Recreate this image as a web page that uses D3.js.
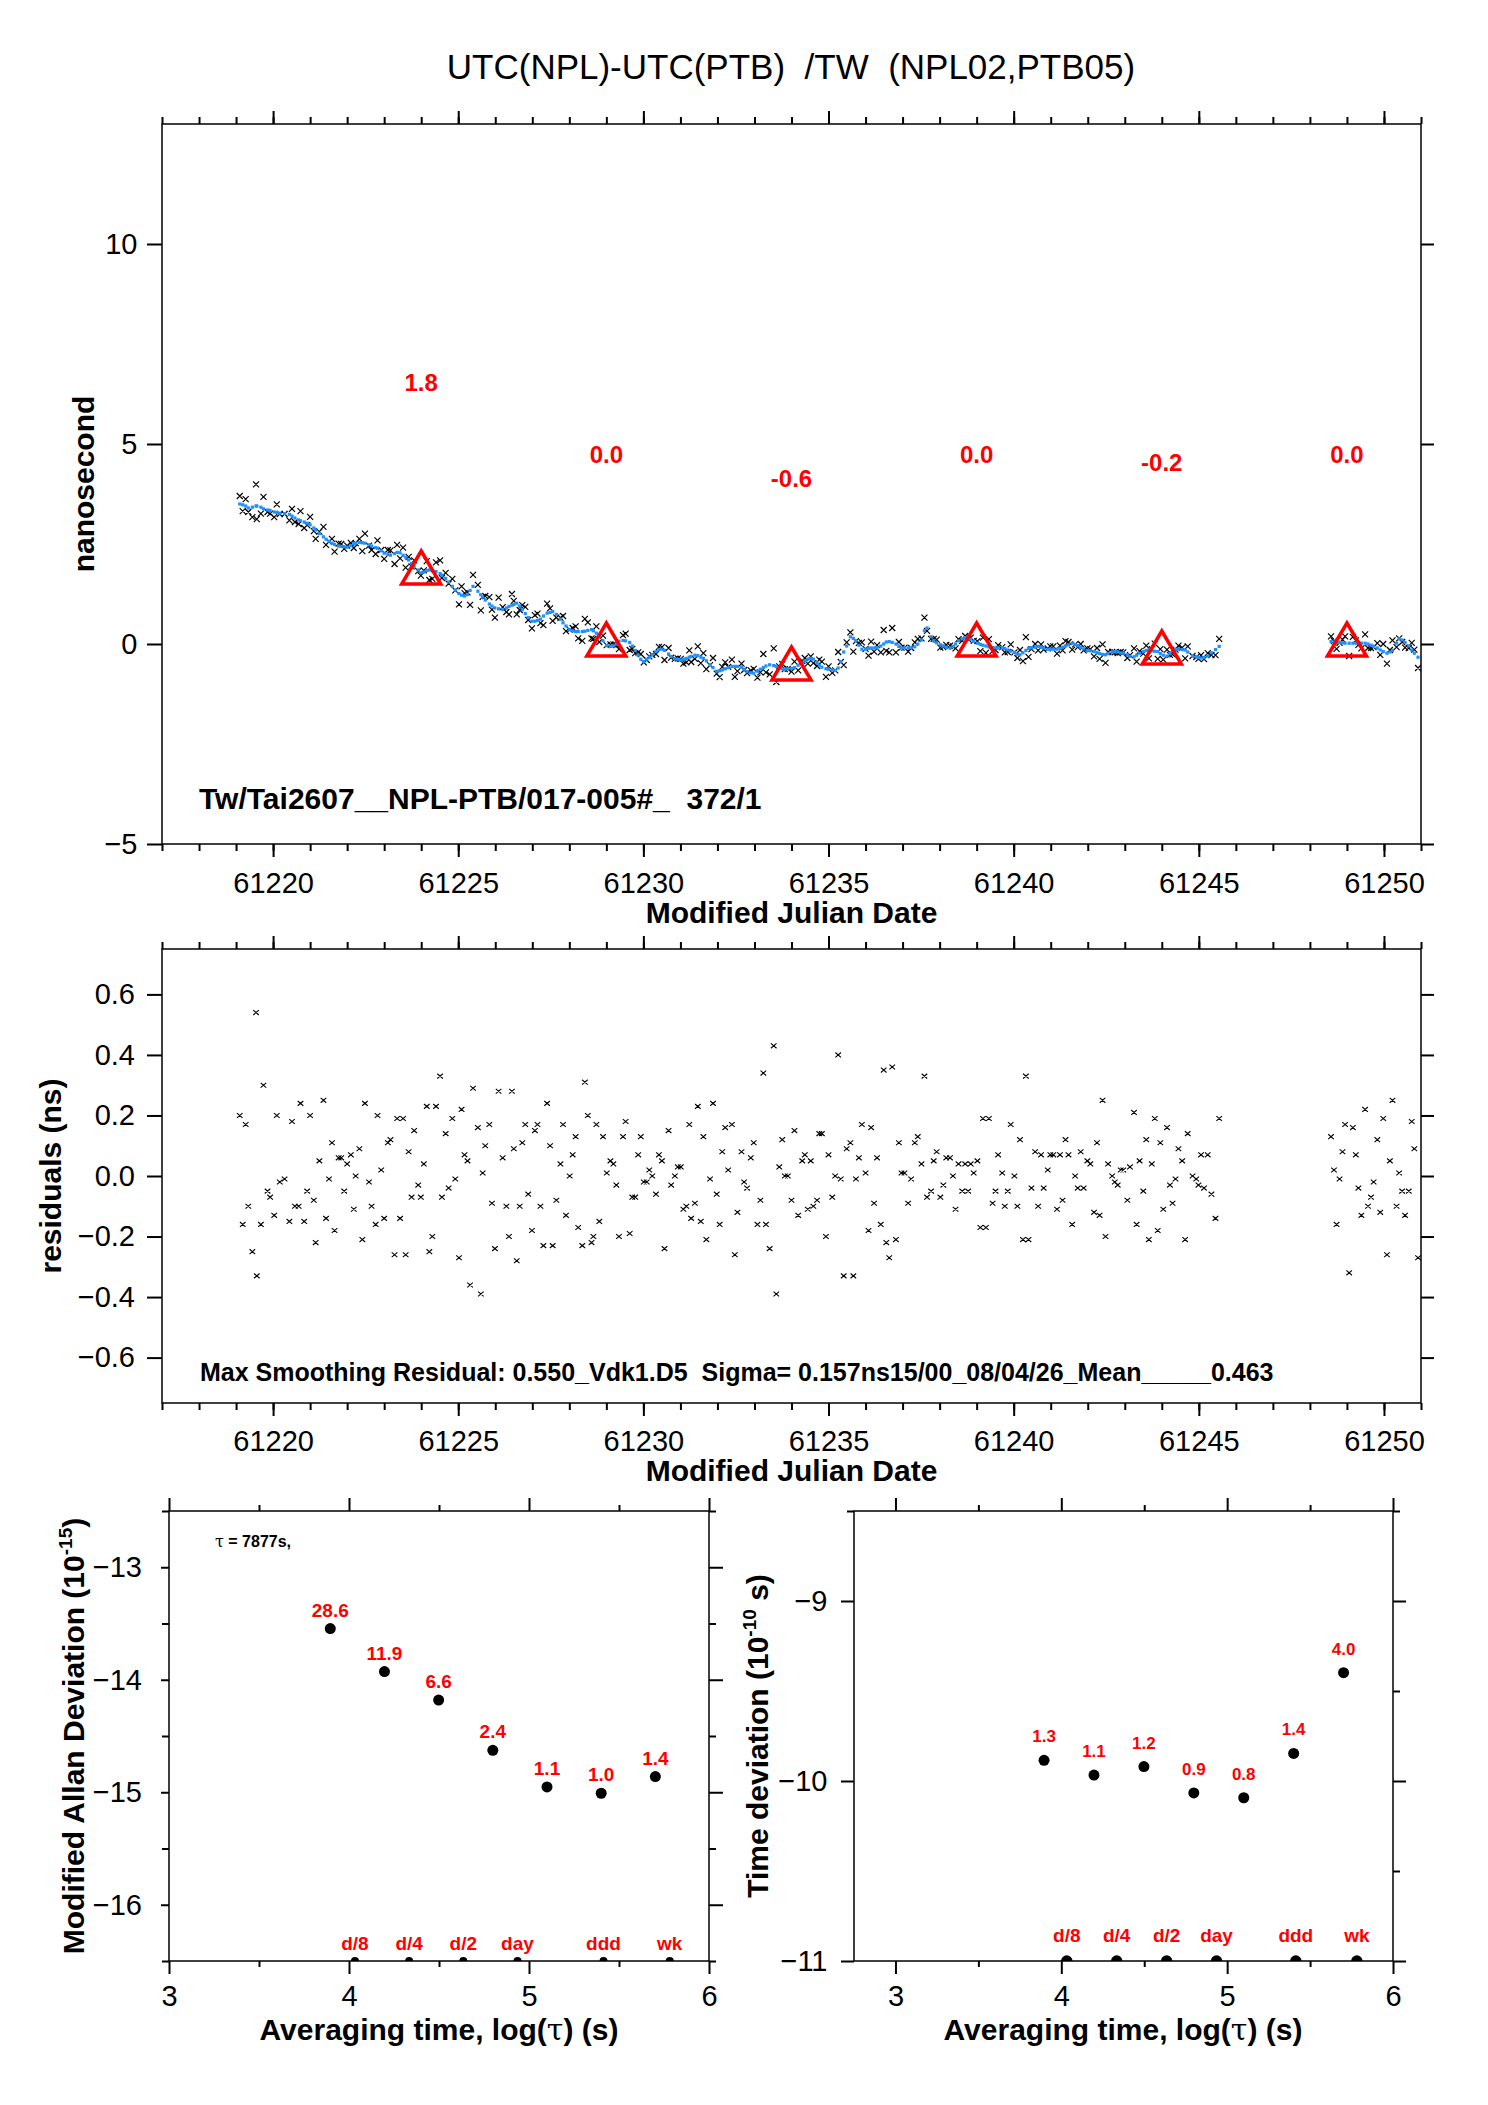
<!DOCTYPE html>
<html>
<head>
<meta charset="utf-8">
<script src="https://cdn.jsdelivr.net/npm/d3@7"></script>
<style>
  body { margin: 0; background: #fff; }
  text { font-family: "Liberation Sans", Arial, Helvetica, sans-serif; }
  .axis text { font-size: 29px; fill: #000; font-family: "Liberation Sans", Arial, sans-serif; }
  .axis .tick line { stroke: #000; stroke-width: 2; }
</style>
</head>
<body>
<svg id="chart"></svg>
<script>
// ---- time series samples (MJD), smoothed curve (ns) and residuals (ns)
const sampleMjd = [
  61219.10,61219.18,61219.26,61219.33,61219.44,61219.54,61219.56,61219.67,61219.74,61219.85,61219.92,
  61220.03,61220.10,61220.18,61220.31,61220.44,61220.51,61220.59,61220.69,61220.74,61220.84,61220.92,
  61221.00,61221.10,61221.15,61221.25,61221.36,61221.43,61221.51,61221.59,61221.66,61221.77,61221.84,61221.92,
  61222.00,61222.10,61222.18,61222.23,61222.33,61222.41,61222.48,61222.59,61222.66,61222.77,61222.82,61222.92,
  61223.00,61223.10,61223.17,61223.28,61223.35,61223.43,61223.51,61223.58,61223.66,61223.74,61223.81,61223.92,61223.99,
  61224.07,61224.15,61224.22,61224.30,61224.40,61224.51,61224.56,61224.66,61224.74,61224.84,61224.92,
  61225.02,61225.09,61225.17,61225.25,61225.32,61225.40,61225.53,61225.61,61225.66,61225.73,61225.84,61225.91,61225.99,
  61226.09,61226.20,61226.30,61226.37,61226.45,61226.50,61226.58,61226.66,61226.73,61226.81,61226.89,61226.99,
  61227.07,61227.14,61227.22,61227.30,61227.40,61227.48,61227.55,61227.65,61227.76,61227.83,61227.91,
  61228.01,61228.09,61228.17,61228.24,61228.35,61228.42,61228.50,61228.60,61228.65,61228.73,61228.81,61228.91,
  61229.01,61229.11,61229.19,61229.27,61229.34,61229.45,61229.52,61229.63,61229.70,61229.78,61229.86,61229.93,
  61230.01,61230.09,61230.16,61230.24,61230.34,61230.42,61230.50,61230.57,61230.68,61230.75,61230.85,61230.93,
  61231.01,61231.08,61231.16,61231.24,61231.29,61231.39,61231.47,61231.55,61231.62,61231.70,61231.80,61231.88,61231.98,
  61232.06,61232.13,61232.21,61232.29,61232.39,61232.47,61232.54,61232.65,61232.72,61232.80,61232.90,61232.98,
  61233.08,61233.16,61233.24,61233.31,61233.41,61233.52,61233.59,61233.67,61233.75,61233.82,61233.90,
  61234.00,61234.08,61234.18,61234.29,61234.36,61234.44,61234.52,61234.59,61234.69,61234.75,61234.82,61234.93,
  61235.00,61235.10,61235.18,61235.26,61235.33,61235.41,61235.49,61235.59,61235.67,61235.74,61235.82,61235.90,
  61236.00,61236.08,61236.15,61236.23,61236.31,61236.41,61236.49,61236.56,61236.64,61236.72,61236.82,61236.90,61236.97,
  61237.05,61237.15,61237.23,61237.33,61237.41,61237.51,61237.59,61237.66,61237.77,61237.84,61237.92,
  61238.02,61238.10,61238.18,61238.28,61238.36,61238.43,61238.51,61238.61,61238.69,61238.77,61238.84,61238.92,
  61239.02,61239.10,61239.17,61239.25,61239.33,61239.43,61239.51,61239.58,61239.69,61239.76,61239.84,61239.92,
  61240.02,61240.10,61240.17,61240.25,61240.33,61240.40,61240.48,61240.58,61240.66,61240.74,61240.81,61240.92,61240.99,
  61241.07,61241.17,61241.25,61241.32,61241.40,61241.48,61241.58,61241.66,61241.73,61241.81,61241.89,61241.99,
  61242.07,61242.17,61242.25,61242.32,61242.40,61242.48,61242.55,61242.66,61242.73,61242.81,61242.89,61242.96,
  61243.07,61243.14,61243.25,61243.32,61243.40,61243.50,61243.58,61243.65,61243.73,61243.81,61243.89,61243.96,
  61244.04,61244.14,61244.22,61244.29,61244.37,61244.45,61244.55,61244.63,61244.70,61244.83,61244.93,61244.99,
  61245.06,61245.14,61245.24,61245.34,61245.45,61245.55,
  61248.57,61248.65,61248.72,61248.80,61248.88,61248.95,
  61249.06,61249.16,61249.24,61249.31,61249.39,61249.49,61249.57,61249.65,61249.72,61249.82,61249.90,61249.98,
  61250.08,61250.16,61250.23,61250.34,61250.41,61250.49,61250.57,61250.67,61250.75,61250.82,61250.92
];
const smoothNs = [
  3.50,3.48,3.45,3.40,3.42,3.45,3.45,3.42,3.38,3.35,3.33,
  3.30,3.29,3.27,3.26,3.24,3.20,3.15,3.10,3.08,3.05,3.02,
  2.98,2.90,2.85,2.76,2.68,2.62,2.57,2.52,2.49,2.45,2.44,2.43,
  2.42,2.46,2.51,2.52,2.54,2.53,2.52,2.48,2.45,2.41,2.39,2.33,
  2.27,2.24,2.22,2.26,2.29,2.28,2.22,2.17,2.10,2.01,1.94,1.85,1.78,
  1.80,1.84,1.85,1.83,1.81,1.76,1.72,1.64,1.55,1.44,1.35,
  1.26,1.22,1.20,1.24,1.34,1.44,1.32,1.23,1.17,1.10,1.00,0.95,0.90,
  0.88,0.86,0.90,0.94,0.97,0.99,1.02,0.95,0.86,0.76,0.66,0.57,
  0.57,0.59,0.62,0.70,0.77,0.79,0.81,0.74,0.62,0.53,0.45,
  0.36,0.33,0.31,0.31,0.31,0.32,0.34,0.36,0.33,0.27,0.20,0.08,
  -0.04,-0.06,-0.05,0.00,0.07,0.09,0.08,0.04,-0.05,-0.16,-0.28,-0.38,
  -0.44,-0.38,-0.33,-0.27,-0.19,-0.14,-0.13,-0.16,-0.25,-0.31,-0.37,-0.39,
  -0.40,-0.38,-0.36,-0.33,-0.31,-0.28,-0.29,-0.33,-0.36,-0.42,-0.52,-0.59,-0.68,
  -0.67,-0.65,-0.62,-0.59,-0.56,-0.56,-0.56,-0.57,-0.63,-0.69,-0.72,-0.73,
  -0.68,-0.63,-0.59,-0.55,-0.52,-0.54,-0.56,-0.59,-0.62,-0.63,-0.62,
  -0.61,-0.59,-0.53,-0.47,-0.42,-0.38,-0.36,-0.38,-0.47,-0.53,-0.58,-0.62,
  -0.63,-0.65,-0.66,-0.60,-0.44,-0.20,-0.05,0.18,0.14,0.08,-0.03,-0.13,
  -0.13,-0.11,-0.10,-0.10,-0.09,-0.05,0.00,0.05,0.06,0.04,0.00,-0.06,-0.10,
  -0.10,-0.10,-0.09,-0.07,0.00,0.10,0.33,0.40,0.18,0.08,0.03,
  -0.02,-0.05,-0.08,-0.10,-0.06,0.00,0.08,0.13,0.16,0.17,0.12,0.07,
  0.02,-0.01,-0.03,-0.05,-0.07,-0.09,-0.10,-0.10,-0.09,-0.11,-0.15,-0.18,
  -0.21,-0.25,-0.27,-0.22,-0.16,-0.11,-0.09,-0.08,-0.06,-0.08,-0.10,-0.13,-0.13,
  -0.13,-0.13,-0.11,-0.08,-0.05,-0.02,0.02,-0.01,-0.04,-0.08,-0.12,-0.16,
  -0.17,-0.19,-0.21,-0.24,-0.26,-0.27,-0.24,-0.20,-0.19,-0.20,-0.22,-0.23,
  -0.27,-0.31,-0.32,-0.28,-0.23,-0.19,-0.16,-0.15,-0.17,-0.18,-0.19,-0.24,
  -0.28,-0.30,-0.24,-0.17,-0.13,-0.13,-0.14,-0.15,-0.20,-0.30,-0.32,-0.34,
  -0.35,-0.34,-0.30,-0.22,-0.14,-0.06,
  0.06,0.05,0.04,0.04,0.03,0.02,
  0.02,0.02,0.02,0.02,0.02,0.02,0.00,-0.03,-0.06,-0.10,-0.15,-0.19,
  -0.23,-0.20,-0.16,0.02,0.13,0.10,0.04,-0.05,-0.15,-0.23,-0.33
];
const residualNs = [
  0.20,-0.16,0.17,-0.10,-0.25,0.54,-0.33,-0.16,0.30,-0.05,-0.07,
  -0.13,0.20,-0.02,-0.01,-0.15,0.18,-0.10,-0.10,0.24,-0.15,-0.05,
  0.20,-0.08,-0.22,0.05,0.25,-0.14,-0.01,0.11,-0.18,0.06,0.06,-0.05,
  0.04,0.07,-0.11,0.00,0.09,-0.21,0.24,-0.02,-0.10,-0.16,0.20,0.02,
  -0.14,0.11,0.12,-0.26,0.19,-0.14,0.19,-0.26,0.08,-0.07,0.15,-0.03,-0.07,
  0.04,0.23,-0.25,-0.20,0.23,0.33,-0.07,0.14,-0.04,0.19,-0.01,
  -0.27,0.22,0.07,0.05,-0.36,0.29,0.16,-0.39,0.01,0.10,0.17,-0.09,-0.24,
  0.28,0.06,-0.10,-0.20,0.28,0.09,-0.28,-0.10,0.11,0.17,-0.06,-0.18,
  0.15,0.17,-0.10,-0.23,0.24,0.10,-0.23,-0.08,0.04,0.17,-0.13,
  0.00,0.07,0.13,-0.17,-0.23,0.31,0.20,-0.22,-0.20,0.17,-0.15,0.13,
  0.01,0.05,0.04,-0.03,-0.20,0.13,0.18,-0.19,-0.07,-0.07,0.07,0.13,
  -0.02,-0.02,0.02,0.00,-0.06,0.07,0.05,-0.24,0.15,-0.03,0.00,0.03,
  0.03,-0.11,-0.10,0.17,-0.14,-0.09,0.23,-0.15,0.13,-0.21,-0.01,0.24,-0.06,
  -0.16,0.08,0.16,0.02,0.17,-0.26,-0.12,0.08,-0.02,-0.04,0.06,0.11,
  -0.16,-0.08,0.34,-0.16,-0.24,0.43,-0.39,0.03,0.12,0.00,0.00,
  -0.08,0.15,-0.13,0.05,0.07,-0.11,0.05,-0.10,-0.08,0.14,0.14,-0.20,
  0.07,-0.07,0.00,0.40,-0.01,-0.33,0.09,0.11,-0.33,-0.01,0.06,0.17,
  0.01,-0.18,0.16,-0.09,0.06,-0.16,0.35,-0.22,-0.27,0.36,-0.21,0.11,0.01,
  0.01,-0.09,-0.01,0.11,0.13,0.04,0.33,-0.07,-0.05,0.05,0.08,
  -0.07,-0.03,0.06,0.06,0.00,-0.11,0.04,-0.05,0.04,-0.05,0.04,0.01,
  0.05,-0.17,0.19,-0.17,0.19,-0.09,-0.05,0.07,0.01,-0.10,-0.05,0.17,
  0.00,-0.10,0.12,-0.21,0.33,-0.21,-0.04,0.08,-0.10,0.07,-0.04,0.02,0.07,
  0.07,-0.11,0.07,-0.08,0.12,0.07,-0.16,0.00,-0.04,0.08,-0.04,0.05,
  0.04,-0.12,0.11,-0.13,0.25,-0.20,0.04,0.00,-0.02,-0.03,0.02,0.02,
  -0.08,0.03,0.21,-0.16,0.05,-0.05,0.12,-0.21,0.04,0.19,-0.18,0.11,
  -0.11,0.16,-0.03,-0.09,-0.01,0.09,0.05,-0.21,0.14,0.00,-0.01,-0.03,
  0.07,-0.04,0.07,-0.06,-0.14,0.19,
  0.13,0.02,-0.16,-0.01,0.08,0.17,
  -0.32,0.16,0.07,-0.04,-0.13,0.22,-0.10,-0.07,-0.02,0.12,-0.12,0.19,
  -0.26,0.05,0.25,-0.10,0.01,-0.05,-0.13,-0.05,0.18,0.09,-0.27
];

// ---- 5-day means shown as triangles
const meanMjd = [61224, 61229, 61234, 61239, 61244, 61249];
const meanNs = [1.8, 0.0, -0.6, 0.0, -0.2, 0.0];
const meanLabels = ['1.8', '0.0', '-0.6', '0.0', '-0.2', '0.0'];

// ---- stability plots
const logTau = [3.896, 4.197, 4.498, 4.799, 5.100, 5.401, 5.702];
const logMdev = [-13.545, -13.927, -14.181, -14.627, -14.953, -15.009, -14.861];
const mdevLabels = ['28.6', '11.9', '6.6', '2.4', '1.1', '1.0', '1.4'];
const logTdev = [-9.885, -9.967, -9.920, -10.066, -10.093, -9.847, -9.398];
const tdevLabels = ['1.3', '1.1', '1.2', '0.9', '0.8', '1.4', '4.0'];
const markTau = [4.033, 4.334, 4.635, 4.936, 5.414, 5.782];
const markNames = ['d/8', 'd/4', 'd/2', 'day', 'ddd', 'wk'];

const titleText = 'UTC(NPL)-UTC(PTB)  /TW  (NPL02,PTB05)';
const infoText = 'Tw/Tai2607__NPL-PTB/017-005#_  372/1';
const residText = 'Max Smoothing Residual: 0.550_Vdk1.D5  Sigma= 0.157ns15/00_08/04/26_Mean_____0.463';

const W = 1488, H = 2105;
const svg = d3.select('#chart').attr('width', W).attr('height', H);
svg.append('rect').attr('width', W).attr('height', H).attr('fill', '#fff');

const xDay = d3.scaleLinear().domain([61217, 61251]).range([162, 1421]);
const yNs = d3.scaleLinear().domain([-5, 13]).range([844, 124]);
const yRes = d3.scaleLinear().domain([-0.75, 0.75]).range([1403, 949]);
const xTauL = d3.scaleLinear().domain([3, 6]).range([169, 709]);
const yMdev = d3.scaleLinear().domain([-16.5, -12.5]).range([1961, 1511]);
const xTauR = d3.scaleLinear().domain([2.75, 6]).range([854, 1393]);
const yTdev = d3.scaleLinear().domain([-11, -8.5]).range([1961, 1511]);

function axis(g, gen, scale, values, size, pad, fmt, tr) {
  const a = gen(scale).tickValues(values).tickSize(size).tickSizeOuter(0)
    .tickPadding(pad).tickFormat(fmt || (() => ''));
  const ag = g.append('g').attr('class', 'axis').attr('transform', tr).call(a);
  ag.select('.domain').remove();
  if (!fmt) ag.selectAll('text').remove();
  return ag;
}

function frame(x, y, o) {
  const g = svg.append('g');
  const [xl, xr] = x.range(), [yb, yt] = y.range();
  axis(g, d3.axisBottom, x, o.xMinor, o.xMin, 0, null, `translate(0,${yb})`);
  axis(g, d3.axisBottom, x, o.xMajor, o.xMaj, o.xPad, o.xFmt, `translate(0,${yb})`);
  axis(g, d3.axisTop, x, o.xMinor, o.xMin, 0, null, `translate(0,${yt})`);
  axis(g, d3.axisTop, x, o.xMajor, o.xMaj, 0, null, `translate(0,${yt})`);
  axis(g, d3.axisLeft, y, o.yMinorL, o.lMin, 0, null, `translate(${xl},0)`);
  axis(g, d3.axisLeft, y, o.yMajor, o.lMaj, o.yPad, o.yFmt, `translate(${xl},0)`);
  axis(g, d3.axisRight, y, o.yMinorR, o.rMin, 0, null, `translate(${xr},0)`);
  axis(g, d3.axisRight, y, o.yMajor, o.rMaj, 0, null, `translate(${xr},0)`);
  g.append('rect').attr('x', xl).attr('y', yt).attr('width', xr - xl).attr('height', yb - yt)
    .attr('fill', 'none').attr('stroke', '#000').attr('stroke-width', 1.5);
  return g;
}

function clipFor(id, x, y) {
  const [xl, xr] = x.range(), [yb, yt] = y.range();
  svg.append('clipPath').attr('id', id).append('rect')
    .attr('x', xl).attr('y', yt).attr('width', xr - xl).attr('height', yb - yt);
  return svg.append('g').attr('clip-path', `url(#${id})`);
}

function cross(cx, cy, hx, hy) {
  return `M${cx - hx},${cy - hy}L${cx + hx},${cy + hy}M${cx - hx},${cy + hy}L${cx + hx},${cy - hy}`;
}

function label(txt, x, y, size, opts = {}) {
  const t = svg.append('text').attr('x', x).attr('y', y).attr('font-size', size)
    .attr('text-anchor', opts.anchor || 'middle').attr('fill', opts.fill || '#000')
    .style('white-space', 'pre').text(txt);
  if (opts.bold) t.attr('font-weight', 'bold');
  return t;
}

function vlabel(parts, cx, cy) {
  const t = svg.append('text').attr('transform', `translate(${cx},${cy}) rotate(-90)`)
    .attr('text-anchor', 'middle').attr('font-weight', 'bold').attr('font-size', 30)
    .style('white-space', 'pre');
  parts.forEach(p => {
    const s = t.append('tspan').text(p.t);
    if (p.sup) s.attr('font-size', 19).attr('dy', -12);
    if (p.down) s.attr('dy', 12);
  });
  return t;
}

const dayMajor = d3.range(61220, 61251, 5);
const dayMinor = d3.range(61217, 61252, 1);

// ================= panel 1: time series =================
label(titleText, 791, 79, 35);

const g1 = clipFor('clip1', xDay, yNs);
g1.append('path')
  .attr('d', sampleMjd.map((m, i) => cross(xDay(m), yNs(smoothNs[i] + residualNs[i]), 3, 3)).join(''))
  .attr('stroke', '#000').attr('stroke-width', 1.2).attr('fill', 'none');
g1.selectAll('rect.sm').data(sampleMjd).join('rect').attr('class', 'sm')
  .attr('x', (m) => xDay(m) - 1.6).attr('y', (m, i) => yNs(smoothNs[i]) - 1.6)
  .attr('width', 3.2).attr('height', 3.2).attr('fill', '#1e90ff');
g1.selectAll('path.tri').data(meanMjd).join('path').attr('class', 'tri')
  .attr('d', (m, i) => {
    const cx = xDay(m), cy = yNs(meanNs[i]);
    return `M${cx},${cy - 21}L${cx + 19.5},${cy + 12}L${cx - 19.5},${cy + 12}Z`;
  })
  .attr('fill', 'none').attr('stroke', '#ff0000').attr('stroke-width', 3.5);
meanMjd.forEach((m, i) => {
  label(meanLabels[i], xDay(m), yNs(meanNs[i]) - 181, 24, { bold: true, fill: '#ff0000' });
});

frame(xDay, yNs, {
  xMajor: dayMajor, xMinor: dayMinor, xMaj: 13, xMin: 7, xPad: 15.5, xFmt: d3.format('d'),
  yMajor: [-5, 0, 5, 10], yMinorL: [], yMinorR: [], lMaj: 15, lMin: 0, rMaj: 13, rMin: 0,
  yPad: 9.5, yFmt: d3.format('d')
});
label(infoText, 199, 809, 30, { bold: true, anchor: 'start' });
label('Modified Julian Date', 791.5, 923, 30, { bold: true });
vlabel([{ t: 'nanosecond' }], 94, 484);

// ================= panel 2: residuals =================
const g2 = clipFor('clip2', xDay, yRes);
g2.append('path')
  .attr('d', sampleMjd.map((m, i) => cross(xDay(m), yRes(residualNs[i]), 2.8, 2.4)).join(''))
  .attr('stroke', '#000').attr('stroke-width', 1.1).attr('fill', 'none');

frame(xDay, yRes, {
  xMajor: dayMajor, xMinor: dayMinor, xMaj: 13, xMin: 7, xPad: 14, xFmt: d3.format('d'),
  yMajor: [-0.6, -0.4, -0.2, 0, 0.2, 0.4, 0.6], yMinorL: [], yMinorR: [], lMaj: 15, lMin: 0, rMaj: 13, rMin: 0,
  yPad: 12, yFmt: d3.format('.1f')
});
label(residText, 200, 1381, 25, { bold: true, anchor: 'start' });
label('Modified Julian Date', 791.5, 1481, 30, { bold: true });
vlabel([{ t: 'residuals (ns)' }], 61, 1176);

// ================= panel 3: modified Allan deviation =================
function xTauLabel(cx) {
  const t = svg.append('text').attr('x', cx).attr('y', 2040).attr('text-anchor', 'middle')
    .attr('font-size', 30).attr('font-weight', 'bold').style('white-space', 'pre');
  t.append('tspan').text('Averaging time, log(');
  t.append('tspan').attr('font-family', '"DejaVu Serif", serif').attr('font-weight', 'normal').text('τ');
  t.append('tspan').text(') (s)');
}

const g3 = clipFor('clip3', xTauL, yMdev);
g3.selectAll('circle.pt').data(logTau).join('circle').attr('class', 'pt')
  .attr('cx', (d) => xTauL(d)).attr('cy', (d, i) => yMdev(logMdev[i])).attr('r', 5.5).attr('fill', '#000');
g3.selectAll('circle.mk').data(markTau).join('circle').attr('class', 'mk')
  .attr('cx', (d) => xTauL(d)).attr('cy', yMdev(-16.5)).attr('r', 4).attr('fill', '#000');
logTau.forEach((d, i) => {
  label(mdevLabels[i], xTauL(d), yMdev(logMdev[i]) - 12, 19, { bold: true, fill: '#ff0000' });
});
markTau.forEach((d, i) => {
  label(markNames[i], xTauL(d), yMdev(-16.5) - 11, 19, { bold: true, fill: '#ff0000' });
});
frame(xTauL, yMdev, {
  xMajor: [3, 4, 5, 6], xMinor: [3.5, 4.5, 5.5], xMaj: 13, xMin: 6, xPad: 11, xFmt: d3.format('d'),
  yMajor: [-16, -15, -14, -13], yMinorL: [-16.5, -15.5, -14.5, -13.5, -12.5],
  yMinorR: [-16.5, -15.5, -14.5, -13.5, -12.5], lMaj: 8, lMin: 7, rMaj: 14, rMin: 7,
  yPad: 19, yFmt: d3.format('d')
});
const tauNote = svg.append('text').attr('x', 215).attr('y', 1547).attr('font-size', 16)
  .attr('font-weight', 'bold').style('white-space', 'pre');
tauNote.append('tspan').attr('font-family', '"DejaVu Serif", serif').attr('font-weight', 'normal').text('τ');
tauNote.append('tspan').text(' = 7877s,');
xTauLabel(439);
vlabel([{ t: 'Modified Allan Deviation (10' }, { t: '-15', sup: true }, { t: ')', down: true }], 84, 1736);

// ================= panel 4: time deviation =================
const g4 = clipFor('clip4', xTauR, yTdev);
g4.selectAll('circle.pt').data(logTau).join('circle').attr('class', 'pt')
  .attr('cx', (d) => xTauR(d)).attr('cy', (d, i) => yTdev(logTdev[i])).attr('r', 5.5).attr('fill', '#000');
g4.selectAll('circle.mk').data(markTau).join('circle').attr('class', 'mk')
  .attr('cx', (d) => xTauR(d)).attr('cy', yTdev(-11)).attr('r', 5.7).attr('fill', '#000');
logTau.forEach((d, i) => {
  label(tdevLabels[i], xTauR(d), yTdev(logTdev[i]) - 18, 17, { bold: true, fill: '#ff0000' });
});
markTau.forEach((d, i) => {
  label(markNames[i], xTauR(d), yTdev(-11) - 19, 19, { bold: true, fill: '#ff0000' });
});
frame(xTauR, yTdev, {
  xMajor: [3, 4, 5, 6], xMinor: [3.5, 4.5, 5.5], xMaj: 13, xMin: 6, xPad: 11, xFmt: d3.format('d'),
  yMajor: [-11, -10, -9], yMinorL: [-8.5], yMinorR: [-10.5, -9.5, -8.5], lMaj: 13, lMin: 7, rMaj: 13, rMin: 7,
  yPad: 13.5, yFmt: d3.format('d')
});
xTauLabel(1123);
vlabel([{ t: 'Time deviation (10' }, { t: '-10', sup: true }, { t: ' s)', down: true }], 768, 1736);
</script>
</body>
</html>
